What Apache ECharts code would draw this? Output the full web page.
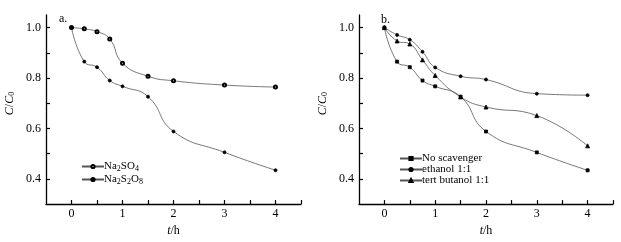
<!DOCTYPE html>
<html>
<head>
<meta charset="utf-8">
<script src="https://cdn.jsdelivr.net/npm/echarts@6/dist/echarts.min.js"></script>
<style>
  html, body { margin: 0; padding: 0; background: #fff; }
  #chart { width: 621px; height: 242px; }
</style>
</head>
<body>
<div id="chart"></div>
<script>
// time points (h)
var times = [0, 0.25, 0.5, 0.75, 1, 1.5, 2, 3, 4];
// panel a
var na2so4 = [1.0, 0.995, 0.984, 0.955, 0.859, 0.807, 0.789, 0.772, 0.764];
var na2s2o8 = [1.0, 0.865, 0.843, 0.79, 0.767, 0.726, 0.588, 0.505, 0.434];
// panel b
var noScavenger = [1.0, 0.865, 0.843, 0.79, 0.767, 0.726, 0.588, 0.505, 0.434];
var ethanol = [1.0, 0.971, 0.952, 0.904, 0.842, 0.807, 0.794, 0.738, 0.732];
var tertButanol = [1.0, 0.947, 0.935, 0.872, 0.81, 0.725, 0.685, 0.651, 0.531];
// tick labels and tick marks
var xLabels = [0, 1, 2, 3, 4];
var xTicks = [0, 0.5, 1, 1.5, 2, 2.5, 3, 3.5, 4, 4.5];
var yLabels = [0.4, 0.6, 0.8, 1.0];
var yTicks = [0.4, 0.5, 0.6, 0.7, 0.8, 0.9, 1.0];

var font = '"Liberation Serif", "DejaVu Serif", serif';

function pairs(vals) {
  return times.map(function (t, i) { return [t, vals[i]]; });
}

function xAxis(gi) {
  return {
    type: 'value', gridIndex: gi, min: -0.5, max: 4.5,
    axisLine: { onZero: false, lineStyle: { color: '#000', width: 1.3 } },
    axisTick: { inside: true, length: 4, customValues: xTicks, lineStyle: { color: '#000', width: 1.2 } },
    axisLabel: { customValues: xLabels, color: '#000', fontFamily: font, fontSize: 12, margin: 4 },
    splitLine: { show: false },
    name: '{i|t}/h', nameLocation: 'middle', nameGap: 19,
    nameTextStyle: { color: '#000', fontFamily: font, fontSize: 12, rich: { i: { fontStyle: 'italic', fontFamily: font, fontSize: 12 } } }
  };
}

function yAxis(gi) {
  return {
    type: 'value', gridIndex: gi, min: 0.3, max: 1.05,
    axisLine: { show: true, onZero: false, lineStyle: { color: '#000', width: 1.3 } },
    axisTick: { show: true, inside: true, length: 4, customValues: yTicks, lineStyle: { color: '#000', width: 1.2 } },
    axisLabel: { customValues: yLabels, color: '#000', fontFamily: font, fontSize: 12, margin: 5,
      formatter: function (v) { return v.toFixed(1); } },
    splitLine: { show: false },
    name: '{i|C}/{i|C}{s|0}', nameLocation: 'middle', nameGap: 30,
    nameTextStyle: { color: '#000', fontFamily: font, fontSize: 12, padding: [0, 0, 0, 12],
      rich: { i: { fontStyle: 'italic', fontFamily: font, fontSize: 12 }, s: { fontFamily: font, fontSize: 8, padding: [5, 0, 0, 0] } } }
  };
}

function line(name, vals, gi, symbol) {
  return {
    name: name, type: 'line', xAxisIndex: gi, yAxisIndex: gi,
    data: pairs(vals), smooth: 0.5,
    symbol: symbol, symbolSize: symbol === 'triangle' ? 4 : 3,
    lineStyle: { color: '#555', width: 0.8 },
    itemStyle: { color: '#000', borderColor: '#000', borderWidth: 0.8 },
    emphasis: { disabled: true }
  };
}

var subRich = {
  n: { fontFamily: font, fontSize: 11, color: '#000' },
  s: { fontFamily: font, fontSize: 8, color: '#000', padding: [5, 0, 0, 0] }
};

var chart = echarts.init(document.getElementById('chart'));
chart.setOption({
  animation: false,
  title: [
    { text: 'a.', left: 54, top: 8, textStyle: { fontFamily: font, fontSize: 12, fontWeight: 'normal', color: '#000' } },
    { text: 'b.', left: 376, top: 9, textStyle: { fontFamily: font, fontSize: 12, fontWeight: 'normal', color: '#000' } }
  ],
  grid: [
    { left: 46, top: 15, width: 255, height: 189 },
    { left: 359, top: 15, width: 254, height: 190 }
  ],
  xAxis: [xAxis(0), xAxis(1)],
  yAxis: [yAxis(0), yAxis(1)],
  legend: [{
    data: ['Na2SO4', 'Na2S2O8'], orient: 'vertical', left: 76, top: 156,
    itemWidth: 22, itemHeight: 4, itemGap: 1,
    textStyle: { fontFamily: font, fontSize: 11, color: '#000', padding: [0, 0, 0, -5], rich: subRich },
    formatter: function (n) {
      return n === 'Na2SO4' ? '{n|Na}{s|2}{n|SO}{s|4}' : '{n|Na}{s|2}{n|S}{s|2}{n|O}{s|8}';
    }
  }, {
    data: ['No scavenger', 'ethanol 1:1', 'tert butanol 1:1'], orient: 'vertical', left: 394, top: 148,
    itemWidth: 22, itemHeight: 4, itemGap: 0,
    textStyle: { fontFamily: font, fontSize: 11, color: '#000', padding: [0, 0, 0, -5] }
  }],
  series: [
    line('Na2SO4', na2so4, 0, 'emptyCircle'),
    line('Na2S2O8', na2s2o8, 0, 'circle'),
    line('No scavenger', noScavenger, 1, 'rect'),
    line('ethanol 1:1', ethanol, 1, 'circle'),
    line('tert butanol 1:1', tertButanol, 1, 'triangle')
  ]
});
</script>
</body>
</html>
